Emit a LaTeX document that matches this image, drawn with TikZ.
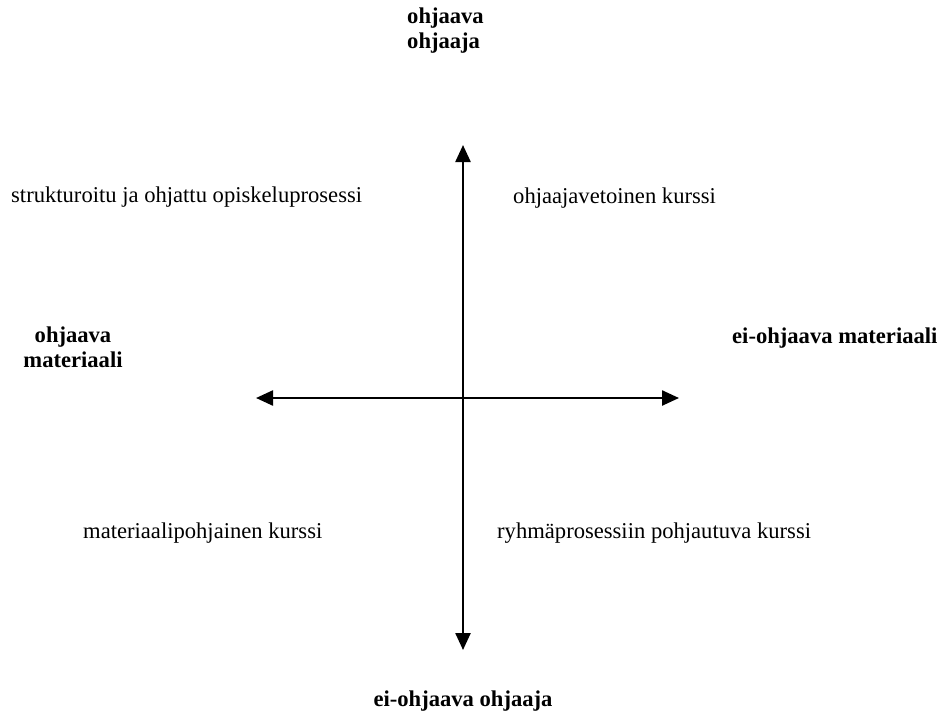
\documentclass[tikz,border=0pt]{standalone}
\usepackage{fontspec}
\setmainfont{Liberation Serif}
\usetikzlibrary{arrows.meta}
\tikzset{
  lbl/.style={inner sep=0pt, font=\fontsize{22.6}{25.5}\selectfont},
  bl/.style={lbl, font=\fontsize{22.6}{25.5}\selectfont\bfseries},
  axis/.style={line width=2.4pt, {Triangle[length=17pt,width=15pt]}-{Triangle[length=17pt,width=15pt]}}
}
\begin{document}
\begin{tikzpicture}[x=1pt,y=-1pt]
\useasboundingbox (0,0) rectangle (941,715);
\coordinate (vt) at (463,145);
\coordinate (vb) at (463,650);
\coordinate (hl) at (256,398);
\coordinate (hr) at (679,398);
\draw[axis] (vb) -- (vt);
\draw[axis] (hl) -- (hr);
\node[bl, anchor=north west, align=left] (top) at (407,7.6) {ohjaava\\ohjaaja};
\node[bl, anchor=north, align=center] (left) at (73,326.6) {ohjaava\\materiaali};
\node[bl, anchor=base west] (right) at (732,343) {ei-ohjaava materiaali};
\node[bl, anchor=base] (bottom) at (463,706) {ei-ohjaava ohjaaja};
\node[lbl, anchor=base west] (q1) at (11,202) {strukturoitu ja ohjattu opiskeluprosessi};
\node[lbl, anchor=base west] (q2) at (513,203) {ohjaajavetoinen kurssi};
\node[lbl, anchor=base west] (q3) at (83,538) {materiaalipohjainen kurssi};
\node[lbl, anchor=base west] (q4) at (497,538) {ryhmäprosessiin pohjautuva kurssi};
\end{tikzpicture}
\end{document}
